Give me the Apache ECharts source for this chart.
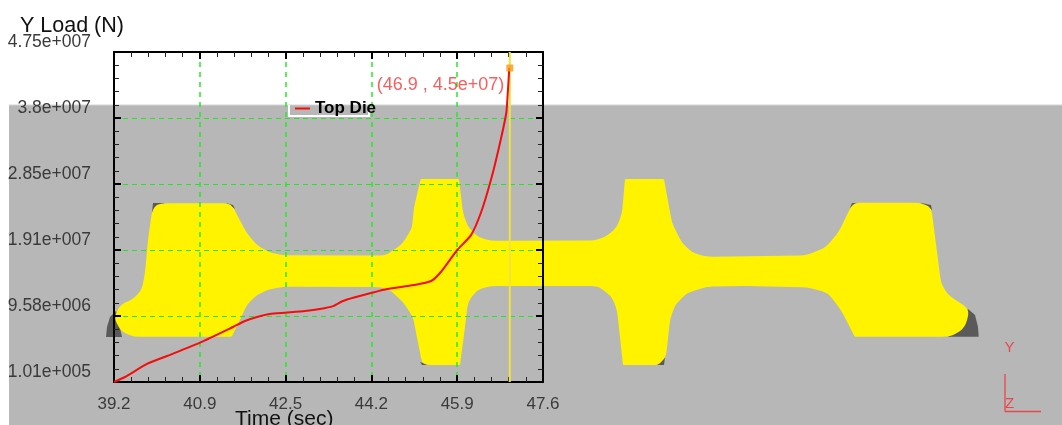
<!DOCTYPE html>
<html>
<head>
<meta charset="utf-8">
<style>html,body{margin:0;padding:0;background:#fff;overflow:hidden}#c{width:1062px;height:425px}</style>
<script src="https://cdn.jsdelivr.net/npm/echarts@6/dist/echarts.min.js"></script>
</head>
<body>
<div id="c"></div>
<script>
// Chart values
const xTickLabels = ['39.2', '40.9', '42.5', '44.2', '45.9', '47.6'];
const yTickLabels = ['1.01e+005', '9.58e+006', '1.91e+007', '2.85e+007', '3.8e+007', '4.75e+007'];
const seriesName = 'Top Die';
const loadTime = [39.2, 39.415, 39.846, 40.24, 40.884, 41.53, 41.765, 42.0, 42.25, 42.55, 42.94, 43.23, 43.49, 43.68, 43.9, 44.23, 44.55, 45.07, 45.41, 45.6, 45.92, 46.19, 46.39, 46.58, 46.74, 46.88, 46.91, 46.94];
const loadValue = [1.01e5, 8.19e5, 2.69e6, 3.84e6, 5.75e6, 8.0e6, 8.86e6, 9.44e6, 9.87e6, 1.006e7, 1.03e7, 1.058e7, 1.10e7, 1.173e7, 1.224e7, 1.288e7, 1.346e7, 1.403e7, 1.461e7, 1.59e7, 1.906e7, 2.12e7, 2.452e7, 2.91e7, 3.385e7, 3.87e7, 4.16e7, 4.52e7];
const cursorTime = 46.95;
const cursorValue = 4.52e7;
const cursorLabel = '(46.9 , 4.5e+07)';

// Backdrop picture (the forging behind the plot), in page pixels. A repeated point keeps a sharp corner.
const forgingOutline = [[115,316],[120,305],[133,299],[141.7,290],[145,273],[148,240],[151.7,213],[155,205.7],[161.7,203.3],[228,203.3],[233,206.7],[238,216.7],[246.7,233],[256.7,245],[270,252.7],[285,255.3],[385,255.5],[394,250],[403,243],[412,228],[414,207],[420.7,179],[420.7,179],[459,179],[459,179],[463,213],[468,227],[478,237],[490,240.7],[595,240.5],[607,236],[617,227],[622,213],[625,179],[625,179],[664,179],[664,179],[672,223],[682,243],[693,253],[707,256.7],[805,255.5],[825,248],[838,233],[852,205],[857,202.7],[920,202.7],[930,206.7],[932,213],[941,283],[948,295],[966,306.7],[969,313],[965,327],[956,334],[948,336.7],[854.7,336.7],[854.7,336.7],[841,310],[828,293],[808,287.3],[750,286],[707,286.7],[687,293],[675,305],[670,320],[666,356.7],[660,363.3],[657,365],[623,365],[623,365],[617,310],[612,297],[600,287.3],[593,286],[490,286],[477,290],[468,302],[465,327],[460,365],[460,365],[428,365],[422,363],[413,317],[403,302],[390,290],[380,287],[285,286.7],[270,289],[256.7,295],[246.7,305],[240,320],[231.7,336.7],[231.7,336.7],[133,336.7],[121.7,331.7],[115.7,321.7]];
const flashPieces = [
  [[106,337],[107,327],[110,317],[116,311],[122,337]],
  [[968,309],[975,315],[978,327],[978.7,336.7],[948,336.7]],
  [[153,203],[165,203],[155,208],[152,213]],
  [[226,203],[233,205],[235,209]],
  [[920,202.7],[931,205],[932,210]],
  [[852,203],[857,203],[850,208]],
  [[420,362],[428,365],[422,365]],
  [[665,357],[664,365],[657,365]]
];
const triadLines = [[[1005,374],[1005,411.5]],[[1005,411.5],[1041,411.5]]];

const FONT = '"Liberation Sans", Arial, sans-serif';
const xMin = 39.2, xMax = 47.6, xStep = 1.68;
const yMin = 1.01e5, yMax = 4.75e7, yStep = 9.48e6;

// Rounds the fillets of the backdrop outline by cutting each corner a little
function roundCorners(pts, passes) {
  let out = pts;
  for (let k = 0; k < passes; k++) {
    const next = [];
    for (let i = 0; i < out.length; i++) {
      const a = out[i], b = out[(i + 1) % out.length];
      const dx = b[0] - a[0], dy = b[1] - a[1], len = Math.hypot(dx, dy);
      if (len < 1e-6) { next.push(a); continue; }
      const d = Math.min(0.25 * len, 3) / len;
      next.push([a[0] + dx * d, a[1] + dy * d], [b[0] - dx * d, b[1] - dy * d]);
    }
    out = next;
  }
  return out;
}

const backdrop = [
  {type:'rect', z:-10, silent:true, shape:{x:9,y:105,width:1053,height:320}, style:{fill:'#b7b7b7'}},
  {type:'line', z:-10, silent:true, shape:{x1:9,y1:105,x2:1062,y2:105}, style:{stroke:'#d4d4d4',lineWidth:1}}
];
flashPieces.forEach(p => backdrop.push({type:'polygon', z:-9, silent:true, shape:{points:p}, style:{fill:'#5a5a5a'}}));
backdrop.push({type:'polygon', z:-8, silent:true, shape:{points:roundCorners(forgingOutline, 2)}, style:{fill:'#fff300'}});
triadLines.forEach(p => backdrop.push({type:'polyline', z:-7, silent:true, shape:{points:p}, style:{stroke:'#e8474c',lineWidth:1.3,fill:null}}));
backdrop.push({type:'text', z:-7, silent:true, x:1004.5, y:340, style:{text:'Y', fill:'#e8474c', font:'15px '+FONT}});
backdrop.push({type:'text', z:-7, silent:true, x:1005, y:396, style:{text:'Z', fill:'#e8474c', font:'15px '+FONT}});
backdrop.push({type:'polyline', z:-6, silent:true, shape:{points:[[289,105],[289,116],[369,116],[369,105]]}, style:{stroke:'#ffffff',lineWidth:2,fill:null}});

const idx = arr => (v, i) => arr[i] !== undefined ? arr[i] : '';
const frameLine = {show:true, onZero:false, lineStyle:{color:'#000',width:2}};
const ticks = {show:true, inside:true, length:7, lineStyle:{color:'#000',width:2}};
const minor = {show:true, splitNumber:5, length:5, lineStyle:{color:'#222',width:1}};

const option = {
  animation:false,
  backgroundColor:'#ffffff',
  textStyle:{fontFamily:FONT},
  graphic:{elements:backdrop},
  title:[
    {text:'Y Load (N)', left:20, top:15, padding:0, textStyle:{fontSize:21.5,fontWeight:'normal',color:'#111',fontFamily:FONT}},
    {text:'Time (sec)', left:235, top:409, padding:0, textStyle:{fontSize:21,fontWeight:'normal',color:'#111',fontFamily:FONT}}
  ],
  legend:{
    data:[seriesName], left:295, top:100, padding:0, itemWidth:15, itemHeight:2, itemGap:0, icon:'rect',
    textStyle:{fontSize:17,fontWeight:'bold',color:'#000',fontFamily:FONT}
  },
  grid:{left:114, top:52, width:429, height:330, containLabel:false},
  xAxis:[
    {type:'value', position:'bottom', min:xMin, max:xMax, interval:xStep,
     axisLine:frameLine, axisTick:ticks, minorTick:minor,
     splitLine:{show:true, lineStyle:{color:'#22ee22',width:1.5,type:[5,5]}}, minorSplitLine:{show:false},
     axisLabel:{show:true, margin:14, fontSize:17, color:'#3a3a3a', fontFamily:FONT, hideOverlap:false, showMinLabel:true, showMaxLabel:true, formatter:idx(xTickLabels)}},
    {type:'value', position:'top', min:xMin, max:xMax, interval:xStep,
     axisLine:frameLine, axisTick:ticks, minorTick:minor, splitLine:{show:false}, axisLabel:{show:false}}
  ],
  yAxis:[
    {type:'value', position:'left', min:yMin, max:yMax, interval:yStep,
     axisLine:frameLine, axisTick:ticks, minorTick:minor,
     splitLine:{show:true, lineStyle:{color:'#1fe81f',width:1,type:[5,4]}}, minorSplitLine:{show:false},
     axisLabel:{show:true, margin:23, fontSize:17.5, color:'#3a3a3a', fontFamily:FONT, hideOverlap:false, showMinLabel:true, showMaxLabel:true, verticalAlign:'bottom', lineHeight:20, formatter:idx(yTickLabels)}},
    {type:'value', position:'right', min:yMin, max:yMax, interval:yStep,
     axisLine:frameLine, axisTick:ticks, minorTick:minor, splitLine:{show:false}, axisLabel:{show:false}}
  ],
  series:[
    {name:'Cursor', type:'line', xAxisIndex:0, yAxisIndex:0, symbol:'none', z:3, clip:false,
     lineStyle:{color:'#efe33c',width:2}, data:[[cursorTime,yMin],[cursorTime,yMax]]},
    {name:seriesName, type:'line', xAxisIndex:0, yAxisIndex:0, symbol:'none', z:4, smooth:0.2,
     lineStyle:{color:'#f40d0d',width:2}, itemStyle:{color:'#f40d0d'},
     data:loadTime.map((t,i)=>[t,loadValue[i]])},
    {name:'Probe', type:'scatter', xAxisIndex:0, yAxisIndex:0, symbol:'rect', symbolSize:7, z:5,
     itemStyle:{color:'#f59a16'},
     label:{show:true, position:'left', distance:2, offset:[0,17], formatter:cursorLabel, fontSize:18, color:'#f83434', fontFamily:FONT},
     data:[[cursorTime,cursorValue]]}
  ]
};
echarts.init(document.getElementById('c'),null,{renderer:'canvas'}).setOption(option);
</script>
</body>
</html>
